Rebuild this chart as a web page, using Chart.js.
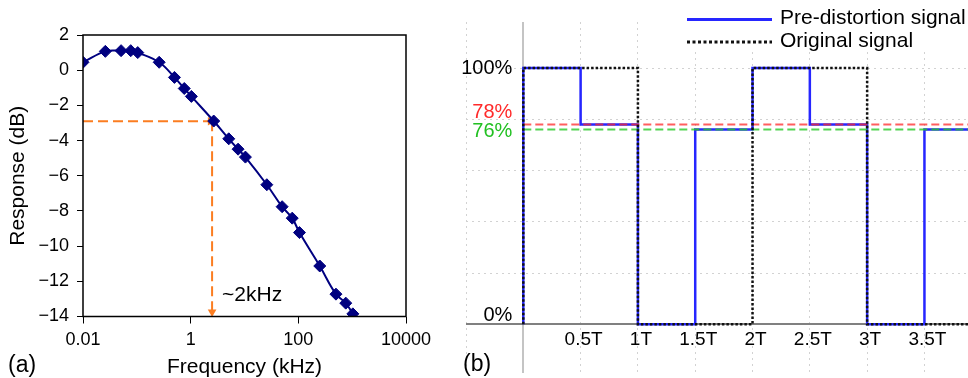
<!DOCTYPE html>
<html>
<head>
<meta charset="utf-8">
<script src="https://cdn.jsdelivr.net/npm/chart.js@4.4.1/dist/chart.umd.min.js"></script>
<style>
  html, body { margin: 0; padding: 0; background: #fff; }
  #wrap { position: relative; width: 968px; height: 378px; overflow: hidden; }
  #respChart { position: absolute; left: 0; top: 0; }
  #sigChart { position: absolute; left: 440px; top: 0; }
</style>
</head>
<body>
<div id="wrap">
  <canvas id="respChart" width="440" height="378"></canvas>
  <canvas id="sigChart" width="528" height="378"></canvas>
</div>
<script>
const FONT = "'Liberation Sans', Arial, sans-serif";
Chart.defaults.font.family = FONT;
Chart.defaults.color = '#000';

// (a) frequency response
const freqKHz = [0.01, 0.026, 0.051, 0.077, 0.104, 0.26, 0.5, 0.76, 1.03, 2.68, 5.1, 7.6, 10.4, 26, 50, 77, 105, 250, 500, 760, 1030];
const responseDb = [0.45, 1.07, 1.11, 1.11, 1.0, 0.45, -0.41, -1.04, -1.49, -2.89, -3.9, -4.49, -4.94, -6.51, -7.76, -8.41, -9.23, -11.13, -12.73, -13.24, -13.85];
const freqTicks = [0.01, 1, 100, 10000];
const cutoffKHz = 2.5;
const cutoffDb = -2.9;

// (b) signals, one level per half period
const halfPeriodLabels = ['0.5T', '1T', '1.5T', '2T', '2.5T', '3T', '3.5T'];
const halfPeriods = [0.5, 1, 1.5, 2, 2.5, 3, 3.5];
const preDistortion = [1.00, 0.78, 0, 0.76, 1.00, 0.78, 0, 0.76];
const originalSignal = [1, 1, 0, 0, 1, 1, 0, 0];
const levelLabels = [
  { value: 1.00, text: '100%', color: '#000' },
  { value: 0.78, text: '78%', color: '#ff2a2a' },
  { value: 0.76, text: '76%', color: '#22c022' },
  { value: 0, text: '0%', color: '#000' }
];
const tMax = 3.88;

const orange = '#fb7d21';
const navy = '#000080';

const leftDecor = {
  id: 'leftDecor',
  afterDraw(chart) {
    const { ctx, chartArea: a } = chart;
    ctx.save();
    ctx.strokeStyle = '#000';
    ctx.lineWidth = 1.5;
    ctx.strokeRect(a.left, a.top, a.right - a.left, a.bottom - a.top);
    ctx.fillStyle = '#000';
    ctx.font = '21px ' + FONT;
    ctx.textBaseline = 'middle';
    ctx.textAlign = 'center';
    ctx.fillText('Frequency (kHz)', (a.left + a.right) / 2, 367);
    ctx.textAlign = 'left';
    ctx.fillText('~2kHz', chart.scales.x.getPixelForValue(cutoffKHz) + 10, 295);
    ctx.font = '23px ' + FONT;
    ctx.fillText('(a)', 8, 366);
    ctx.font = '21px ' + FONT;
    ctx.translate(18, (a.top + a.bottom) / 2);
    ctx.rotate(-Math.PI / 2);
    ctx.textAlign = 'center';
    ctx.fillText('Response (dB)', 0, 0);
    ctx.restore();
  }
};

new Chart(document.getElementById('respChart').getContext('2d'), {
  type: 'line',
  data: {
    datasets: [
      {
        label: 'Response',
        data: freqKHz.map((f, i) => ({ x: f, y: responseDb[i] })),
        borderColor: navy,
        borderWidth: 2,
        tension: 0.4,
        pointStyle: 'rectRot',
        pointRadius: 6,
        pointBackgroundColor: navy,
        pointBorderColor: navy,
        pointBorderWidth: 1
      },
      {
        label: 'cutoff level',
        data: [{ x: freqTicks[0], y: cutoffDb }, { x: cutoffKHz * 0.93, y: cutoffDb }],
        borderColor: orange,
        borderWidth: 2,
        borderDash: [10, 5],
        pointStyle: 'triangle',
        pointRadius: [0, 5],
        pointRotation: [0, 90],
        pointBackgroundColor: orange,
        pointBorderWidth: 0
      },
      {
        label: 'cutoff frequency',
        data: [{ x: cutoffKHz, y: cutoffDb }, { x: cutoffKHz, y: -13.75 }],
        borderColor: orange,
        borderWidth: 2,
        borderDash: [10, 5],
        pointStyle: 'triangle',
        pointRadius: [0, 5],
        pointRotation: [0, 180],
        pointBackgroundColor: orange,
        pointBorderWidth: 0,
        clip: false
      }
    ]
  },
  options: {
    responsive: false,
    animation: false,
    events: [],
    layout: { padding: { top: 35, right: 34, left: 0, bottom: 0 } },
    plugins: { legend: { display: false }, tooltip: { enabled: false } },
    scales: {
      x: {
        type: 'logarithmic',
        min: 0.01,
        max: 10000,
        afterBuildTicks: s => { s.ticks = freqTicks.map(v => ({ value: v })); },
        afterFit: s => { s.height = 61.5; },
        ticks: { callback: v => String(v), font: { size: 18 }, color: '#000', padding: 6, maxRotation: 0, autoSkip: false },
        grid: { drawOnChartArea: false, tickLength: 7, tickColor: '#000', tickWidth: 1 },
        border: { display: false }
      },
      y: {
        min: -14,
        max: 2,
        ticks: {
          stepSize: 2,
          callback: v => (v < 0 ? '\u2212' + Math.abs(v) : String(v)),
          font: { size: 18 },
          color: '#000',
          padding: 8
        },
        afterFit: s => { s.width = 83; },
        grid: { drawOnChartArea: false, tickLength: 6, tickColor: '#000', tickWidth: 1 },
        border: { display: false }
      }
    }
  },
  plugins: [leftDecor]
});

// (b) step signals
function stepPoints(levels) {
  const pts = [{ x: 0, y: 0 }];
  levels.forEach((v, i) => pts.push({ x: i * 0.5, y: v }));
  pts.push({ x: tMax, y: levels[levels.length - 1] });
  return pts;
}

const rightDecor = {
  id: 'rightDecor',
  afterDraw(chart) {
    const { ctx } = chart;
    const xs = chart.scales.x, ys = chart.scales.y;
    const x0 = xs.getPixelForValue(0);
    ctx.save();
    ctx.textBaseline = 'middle';

    // level labels
    ctx.font = '20px ' + FONT;
    ctx.textAlign = 'right';
    const nudge = { 1: 0, 0.78: -12, 0.76: 2, 0: -9 };
    levelLabels.forEach(l => {
      ctx.fillStyle = l.color;
      ctx.fillText(l.text, x0 - 11, ys.getPixelForValue(l.value) + nudge[l.value]);
    });

    // time labels
    ctx.fillStyle = '#000';
    ctx.textAlign = 'center';
    ctx.font = '19px ' + FONT;
    halfPeriods.forEach((t, i) => {
      ctx.fillText(halfPeriodLabels[i], xs.getPixelForValue(t) + 3, 340);
    });

    ctx.textAlign = 'left';
    ctx.font = '23px ' + FONT;
    ctx.fillText('(b)', 23, 365);

    // legend
    ctx.fillStyle = '#fff';
    ctx.fillRect(243, 0, 285, 52);
    const items = chart.data.datasets.filter(d => d.showInLegend);
    items.sort((a, b) => a.legendRow - b.legendRow);
    items.forEach((d, i) => {
      const y = 19.5 + i * 22.5;
      ctx.strokeStyle = d.borderColor;
      ctx.lineWidth = 3;
      ctx.setLineDash(d.borderDash ? [3, 2.5] : []);
      ctx.beginPath();
      ctx.moveTo(247, y);
      ctx.lineTo(332, y);
      ctx.stroke();
      ctx.setLineDash([]);
      ctx.fillStyle = '#000';
      ctx.font = '21px ' + FONT;
      ctx.fillText(d.label, 340, y - 1);
    });
    ctx.restore();
  }
};

const gridTimes = [-0.5, 0].concat(halfPeriods);
const gridLevels = [0, 0.2, 0.4, 0.6, 0.8, 1.0];

new Chart(document.getElementById('sigChart').getContext('2d'), {
  type: 'line',
  data: {
    datasets: [
      {
        label: 'Original signal',
        showInLegend: true, legendRow: 1,
        data: stepPoints(originalSignal),
        stepped: 'before',
        borderColor: '#111',
        borderWidth: 2.5,
        borderDash: [2.5, 2],
        pointRadius: 0
      },
      {
        label: '78%',
        data: [{ x: 0, y: 0.78 }, { x: tMax, y: 0.78 }],
        borderColor: 'rgba(255, 40, 40, 0.75)',
        borderWidth: 2,
        borderDash: [8, 4],
        pointRadius: 0
      },
      {
        label: '76%',
        data: [{ x: 0, y: 0.76 }, { x: tMax, y: 0.76 }],
        borderColor: 'rgba(40, 200, 40, 0.8)',
        borderWidth: 2,
        borderDash: [8, 4],
        pointRadius: 0
      },
      {
        label: 'Pre-distortion signal',
        showInLegend: true, legendRow: 0,
        data: stepPoints(preDistortion),
        stepped: 'before',
        borderColor: '#2626ff',
        borderWidth: 2.5,
        pointRadius: 0
      }
    ]
  },
  options: {
    responsive: false,
    animation: false,
    events: [],
    layout: { padding: { top: 22, right: 0, left: 26, bottom: 5 } },
    plugins: { legend: { display: false }, tooltip: { enabled: false } },
    scales: {
      x: {
        type: 'linear',
        min: -0.5,
        max: tMax,
        afterBuildTicks: s => { s.ticks = gridTimes.map(v => ({ value: v })); },
        afterFit: s => { s.height = 0; },
        ticks: { display: false },
        grid: {
          drawTicks: false,
          color: c => (c.tick && c.tick.value === 0 ? '#c4c4c4' : '#d2d2d2'),
          lineWidth: c => (c.tick && c.tick.value === 0 ? 2 : 1)
        },
        border: { display: false, dash: c => (c.tick && c.tick.value === 0 ? [] : [2, 4]) }
      },
      y: {
        min: -0.19,
        max: 1.18,
        afterBuildTicks: s => { s.ticks = gridLevels.map(v => ({ value: v })); },
        afterFit: s => { s.width = 0; },
        ticks: { display: false },
        grid: {
          drawTicks: false,
          color: c => (c.tick && c.tick.value === 0 ? '#808080' : '#d2d2d2'),
          lineWidth: c => (c.tick && c.tick.value === 0 ? 2 : 1)
        },
        border: { display: false, dash: c => (c.tick && c.tick.value === 0 ? [] : [2, 4]) }
      }
    }
  },
  plugins: [rightDecor]
});
</script>
</body>
</html>
